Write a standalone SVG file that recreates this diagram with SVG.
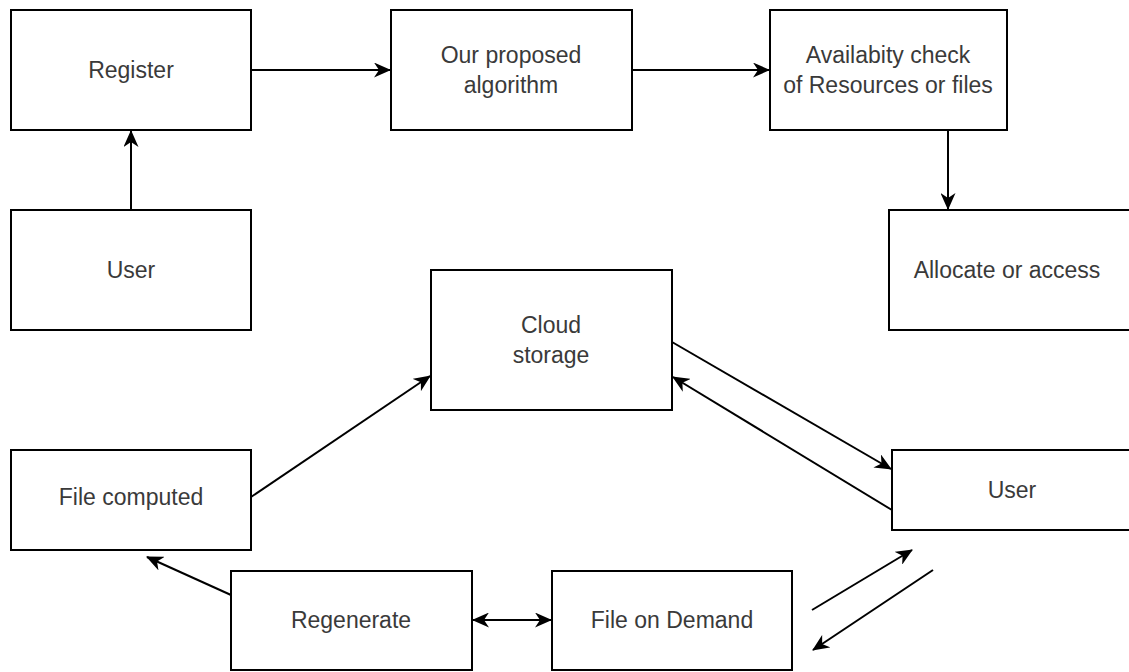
<svg xmlns="http://www.w3.org/2000/svg" width="1129" height="672" viewBox="0 0 1129 672">
  <style>
    .box { fill: #ffffff; stroke: #000000; stroke-width: 2; }
    .lbl { font-family: "Liberation Sans", Arial, sans-serif; font-size: 23px; fill: #3a3a3a; text-anchor: middle; }
    .edge { fill: none; stroke: #000000; stroke-width: 2; }
    .arr { marker-end: url(#head); }
  </style>
  <defs>
    <marker id="head" viewBox="0 0 17 15" refX="16" refY="7.5" markerWidth="17" markerHeight="15" markerUnits="userSpaceOnUse" orient="auto-start-reverse">
      <path d="M0,0 L17,7.5 L0,15 L5,7.5 Z" fill="#000000"/>
    </marker>
  </defs>
  <rect width="1129" height="672" fill="#ffffff"/>

  <g id="connectors">
    <line class="edge arr" x1="131" y1="210" x2="131" y2="131"/>
    <line class="edge arr" x1="251" y1="70" x2="390" y2="70"/>
    <line class="edge arr" x1="632" y1="70" x2="769" y2="70"/>
    <line class="edge arr" x1="948" y1="130" x2="948" y2="209"/>
    <line class="edge arr" x1="672" y1="342" x2="891" y2="469"/>
    <line class="edge arr" x1="892" y1="510" x2="673" y2="377"/>
    <line class="edge arr" x1="251" y1="497" x2="430" y2="376"/>
    <line class="edge arr" x1="231" y1="595" x2="147" y2="557"/>
    <line class="edge arr" x1="473" y1="620" x2="551" y2="620" marker-start="url(#head)"/>
    <line class="edge arr" x1="812" y1="610" x2="912" y2="550"/>
    <line class="edge arr" x1="933" y1="570" x2="813" y2="650"/>
  </g>

  <g id="register">
    <rect class="box" x="11" y="10" width="240" height="120"/>
    <text class="lbl" x="131" y="78">Register</text>
  </g>
  <g id="user-left">
    <rect class="box" x="11" y="210" width="240" height="120"/>
    <text class="lbl" x="131" y="278">User</text>
  </g>
  <g id="algorithm">
    <rect class="box" x="391" y="10" width="241" height="120"/>
    <text class="lbl" x="511" y="63">Our proposed</text>
    <text class="lbl" x="511" y="93">algorithm</text>
  </g>
  <g id="availability">
    <rect class="box" x="770" y="10" width="237" height="120"/>
    <text class="lbl" x="888" y="63">Availabity check</text>
    <text class="lbl" x="888" y="93">of Resources or files</text>
  </g>
  <g id="allocate">
    <rect class="box" x="889" y="210" width="250" height="120"/>
    <text class="lbl" x="1007" y="278">Allocate or access</text>
  </g>
  <g id="cloud-storage">
    <rect class="box" x="431" y="270" width="241" height="140"/>
    <text class="lbl" x="551" y="333">Cloud</text>
    <text class="lbl" x="551" y="363">storage</text>
  </g>
  <g id="user-right">
    <rect class="box" x="892" y="450" width="250" height="80"/>
    <text class="lbl" x="1012" y="498">User</text>
  </g>
  <g id="file-computed">
    <rect class="box" x="11" y="450" width="240" height="100"/>
    <text class="lbl" x="131" y="505">File computed</text>
  </g>
  <g id="regenerate">
    <rect class="box" x="231" y="571" width="241" height="99"/>
    <text class="lbl" x="351" y="628">Regenerate</text>
  </g>
  <g id="file-on-demand">
    <rect class="box" x="552" y="571" width="240" height="99"/>
    <text class="lbl" x="672" y="628">File on Demand</text>
  </g>
</svg>
